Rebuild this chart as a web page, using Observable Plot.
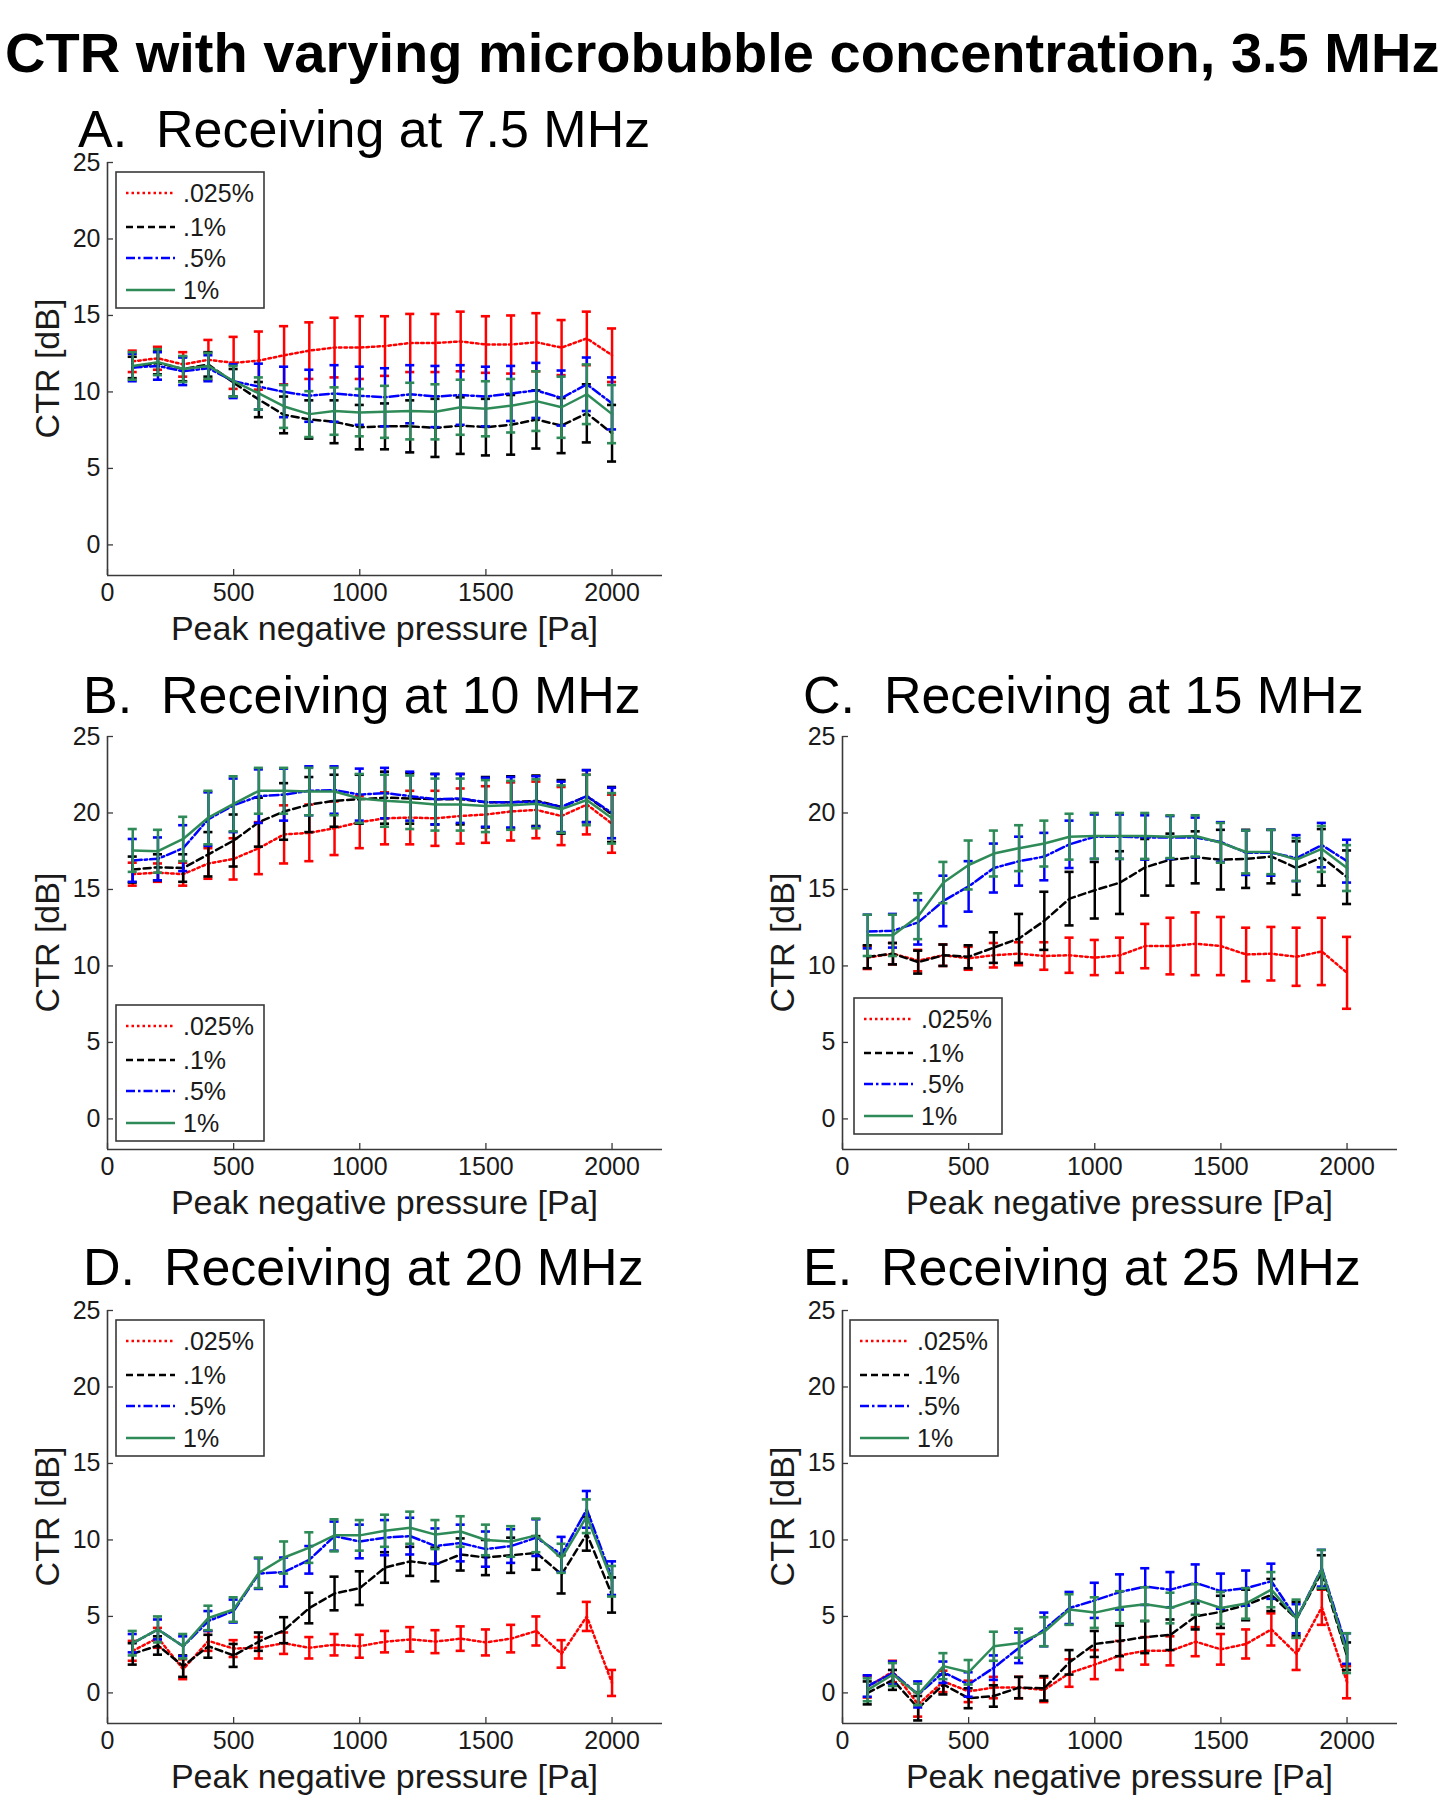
<!DOCTYPE html>
<html>
<head>
<meta charset="utf-8">
<script src="https://cdn.jsdelivr.net/npm/d3@7"></script>
<script src="https://cdn.jsdelivr.net/npm/@observablehq/plot@0.6"></script>
<style>
  body { margin: 0; background: #fff; }
  #page { position: relative; width: 1444px; height: 1800px; background: #fff; font-family: "Liberation Sans", Arial, sans-serif; }
  .panel { position: absolute; }
  #overlay { position: absolute; left: 0; top: 0; pointer-events: none; }
</style>
</head>
<body>
<div id="page"></div>
<script>
// ---------- data ----------
const pressure = [100, 200, 300, 400, 500, 600, 700, 800, 900, 1000, 1100, 1200, 1300, 1400, 1500, 1600, 1700, 1800, 1900, 2000];
const xTicks = [0, 500, 1000, 1500, 2000];
const yTicks = [0, 5, 10, 15, 20, 25];
const seriesNames = [".025%", ".1%", ".5%", "1%"];

// A. Receiving at 7.5 MHz
const a025 = [12.0, 12.2, 11.8, 12.1, 11.9, 12.05, 12.4, 12.7, 12.9, 12.9, 13.0, 13.2, 13.2, 13.3, 13.1, 13.1, 13.25, 12.9, 13.5, 12.4];
const a025err = [0.7, 0.75, 0.8, 1.3, 1.7, 1.9, 1.9, 1.85, 1.95, 2.05, 1.95, 1.9, 1.9, 1.95, 1.85, 1.9, 1.9, 1.8, 1.75, 1.75];
const a1 = [11.6, 11.9, 11.5, 11.8, 10.6, 9.5, 8.5, 8.2, 8.05, 7.7, 7.75, 7.75, 7.65, 7.8, 7.7, 7.85, 8.2, 7.8, 8.6, 7.3];
const a1err = [0.7, 0.75, 0.8, 0.8, 0.9, 1.15, 1.2, 1.25, 1.4, 1.45, 1.5, 1.7, 1.9, 1.85, 1.85, 1.95, 1.9, 1.8, 1.9, 1.85];
const a5 = [11.6, 11.7, 11.35, 11.55, 10.7, 10.35, 10.0, 9.75, 9.9, 9.75, 9.65, 9.85, 9.7, 9.8, 9.7, 9.9, 10.1, 9.6, 10.5, 9.25];
const a5err = [0.9, 0.9, 0.9, 0.85, 1.1, 1.5, 1.65, 1.7, 1.85, 1.9, 1.9, 1.9, 2.0, 1.95, 1.95, 1.8, 1.8, 1.8, 1.75, 1.7];
const a10 = [11.7, 11.95, 11.5, 11.7, 10.7, 9.9, 9.05, 8.55, 8.75, 8.65, 8.7, 8.75, 8.7, 9.0, 8.9, 9.1, 9.4, 9.0, 9.85, 8.55];
const a10err = [0.9, 0.85, 0.85, 0.85, 1.0, 1.05, 1.4, 1.5, 1.55, 1.55, 1.7, 1.85, 1.8, 1.8, 1.8, 1.75, 1.95, 2.0, 1.95, 1.9];

// B. Receiving at 10 MHz
const b025 = [16.0, 16.1, 16.0, 16.7, 17.0, 17.7, 18.6, 18.7, 19.0, 19.4, 19.65, 19.7, 19.65, 19.8, 19.9, 20.1, 20.2, 19.8, 20.55, 19.3];
const b025err = [0.75, 0.6, 0.75, 1.0, 1.35, 1.7, 1.9, 1.85, 1.75, 1.7, 1.7, 1.75, 1.8, 1.8, 1.85, 1.9, 1.85, 1.9, 1.95, 1.9];
const b1 = [16.3, 16.45, 16.4, 17.3, 18.2, 19.4, 20.1, 20.55, 20.8, 20.9, 21.0, 20.95, 20.9, 20.9, 20.7, 20.7, 20.8, 20.4, 21.1, 19.9];
const b1err = [0.85, 0.85, 0.9, 1.45, 1.7, 1.6, 1.85, 1.8, 1.7, 1.6, 1.7, 1.65, 1.65, 1.65, 1.65, 1.7, 1.65, 1.75, 1.7, 1.8];
const b5 = [16.9, 17.0, 17.7, 19.6, 20.5, 21.1, 21.2, 21.45, 21.5, 21.2, 21.3, 21.1, 20.9, 20.95, 20.7, 20.7, 20.75, 20.4, 21.1, 20.0];
const b5err = [1.4, 1.4, 1.5, 1.75, 1.75, 1.75, 1.7, 1.6, 1.55, 1.7, 1.65, 1.6, 1.65, 1.6, 1.6, 1.65, 1.65, 1.65, 1.7, 1.65];
const b10 = [17.55, 17.5, 18.3, 19.7, 20.6, 21.45, 21.45, 21.4, 21.4, 20.95, 20.8, 20.7, 20.55, 20.55, 20.45, 20.5, 20.6, 20.25, 20.85, 19.65];
const b10err = [1.4, 1.4, 1.45, 1.75, 1.8, 1.5, 1.5, 1.55, 1.55, 1.6, 1.7, 1.75, 1.7, 1.7, 1.7, 1.6, 1.6, 1.55, 1.65, 1.65];

// C. Receiving at 15 MHz
const c025 = [10.55, 10.8, 10.35, 10.7, 10.5, 10.7, 10.8, 10.65, 10.7, 10.55, 10.7, 11.3, 11.3, 11.45, 11.3, 10.75, 10.8, 10.6, 10.95, 9.55];
const c025err = [0.75, 0.7, 0.7, 0.7, 0.75, 0.8, 0.75, 0.9, 1.15, 1.15, 1.15, 1.45, 1.85, 2.05, 1.9, 1.75, 1.75, 1.9, 2.2, 2.35];
const c1 = [10.6, 10.8, 10.25, 10.7, 10.6, 11.2, 11.8, 12.95, 14.4, 14.95, 15.45, 16.45, 16.95, 17.1, 16.95, 17.0, 17.15, 16.4, 17.1, 15.8];
const c1err = [0.75, 0.7, 0.75, 0.7, 0.75, 1.0, 1.6, 1.9, 1.75, 1.85, 2.05, 1.85, 1.7, 1.7, 1.95, 1.9, 1.75, 1.75, 1.85, 1.75];
const c5 = [12.25, 12.3, 12.85, 14.25, 15.2, 16.4, 16.85, 17.15, 17.95, 18.45, 18.45, 18.4, 18.4, 18.4, 18.1, 17.4, 17.4, 17.05, 17.9, 16.85];
const c5err = [1.1, 1.1, 1.45, 1.65, 1.65, 1.6, 1.6, 1.55, 1.55, 1.45, 1.45, 1.45, 1.4, 1.3, 1.3, 1.45, 1.5, 1.5, 1.45, 1.4];
const c10 = [12.0, 12.0, 13.25, 15.45, 16.6, 17.35, 17.7, 18.0, 18.45, 18.5, 18.5, 18.5, 18.45, 18.5, 18.05, 17.45, 17.45, 16.95, 17.65, 16.4];
const c10err = [1.35, 1.35, 1.5, 1.35, 1.6, 1.5, 1.5, 1.5, 1.5, 1.5, 1.5, 1.5, 1.4, 1.35, 1.3, 1.4, 1.45, 1.4, 1.5, 1.5];

// D. Receiving at 20 MHz
const d025 = [2.75, 3.6, 1.55, 3.4, 2.9, 2.95, 3.25, 2.95, 3.15, 3.05, 3.35, 3.5, 3.35, 3.55, 3.3, 3.55, 4.05, 2.55, 5.0, 0.65];
const d025err = [0.65, 0.65, 0.65, 0.65, 0.55, 0.7, 0.7, 0.7, 0.7, 0.75, 0.7, 0.8, 0.75, 0.8, 0.85, 0.9, 0.95, 0.9, 0.95, 0.85];
const d1 = [2.55, 3.1, 1.75, 3.05, 2.45, 3.35, 4.1, 5.55, 6.5, 6.85, 8.2, 8.6, 8.4, 9.05, 8.85, 9.0, 9.15, 7.75, 10.4, 6.4];
const d1err = [0.7, 0.6, 0.7, 0.75, 0.75, 0.6, 0.85, 1.0, 1.1, 1.1, 1.0, 0.95, 1.1, 1.05, 1.15, 1.15, 1.1, 1.25, 1.1, 1.15];
const d5 = [3.25, 4.15, 3.05, 4.7, 5.35, 7.8, 7.9, 8.7, 10.25, 9.9, 10.15, 10.25, 9.6, 9.8, 9.4, 9.6, 10.15, 9.05, 12.0, 7.5];
const d5err = [0.6, 0.65, 0.65, 0.65, 0.75, 1.0, 0.95, 0.9, 0.95, 1.1, 1.15, 1.2, 1.15, 1.2, 1.15, 1.1, 1.2, 1.15, 1.2, 1.1];
const d10 = [3.25, 4.15, 3.05, 4.9, 5.45, 7.85, 8.85, 9.5, 10.3, 10.3, 10.6, 10.8, 10.35, 10.55, 10.0, 9.9, 10.3, 8.8, 11.55, 7.3];
const d10err = [0.8, 0.85, 0.8, 0.8, 0.8, 1.0, 1.05, 1.0, 1.05, 1.0, 1.05, 1.05, 0.95, 1.0, 1.0, 1.0, 1.1, 0.95, 1.1, 1.0];

// E. Receiving at 25 MHz
const e025 = [0.4, 1.4, -0.75, 0.75, 0.1, 0.35, 0.35, 0.2, 1.3, 1.85, 2.45, 2.75, 2.75, 3.35, 2.85, 3.2, 4.15, 2.55, 5.6, 0.7];
const e025err = [0.7, 0.7, 0.8, 0.7, 0.7, 0.7, 0.7, 0.8, 0.9, 0.95, 0.95, 0.9, 0.95, 0.95, 1.0, 0.95, 1.05, 1.05, 1.15, 1.05];
const e1 = [0.0, 0.85, -1.0, 0.55, -0.35, -0.2, 0.35, 0.3, 2.0, 3.2, 3.4, 3.65, 3.8, 5.0, 5.3, 5.75, 6.4, 4.85, 7.9, 2.4];
const e1err = [0.75, 0.65, 0.8, 0.65, 0.65, 0.7, 0.7, 0.8, 0.8, 0.85, 1.0, 1.05, 1.0, 0.85, 1.05, 1.0, 1.05, 1.1, 1.1, 0.9];
const e5 = [0.45, 1.3, -0.1, 1.35, 0.55, 1.65, 2.95, 4.15, 5.55, 6.05, 6.6, 6.95, 6.75, 7.2, 6.65, 6.85, 7.3, 4.85, 8.15, 2.9];
const e5err = [0.7, 0.75, 0.85, 0.7, 0.8, 0.8, 1.0, 1.1, 1.05, 1.15, 1.15, 1.2, 1.15, 1.2, 1.15, 1.15, 1.15, 0.95, 1.2, 1.0];
const e10 = [0.2, 1.2, -0.1, 1.75, 1.35, 3.05, 3.25, 4.0, 5.45, 5.25, 5.6, 5.8, 5.55, 6.1, 5.55, 5.85, 6.75, 4.85, 8.1, 2.6];
const e10err = [0.75, 0.75, 0.7, 0.85, 0.8, 0.95, 0.95, 0.95, 1.0, 1.0, 1.05, 1.1, 1.0, 1.0, 1.05, 1.0, 1.15, 1.25, 1.25, 1.3];

// ---------- styles ----------
const seriesStyle = [
  {color: "#ff0000", dash: "2.5,3"},
  {color: "#000000", dash: "7,4"},
  {color: "#0000ff", dash: "9,3,2.5,3"},
  {color: "#2e8b57", dash: null}
];

const panels = [
  {title: "A.\u00a0 Receiving at 7.5 MHz", left: 0,   top: 142,  titleX: 78,  titleY: 147,  legend: [116, 172], data: [[a025, a025err], [a1, a1err], [a5, a5err], [a10, a10err]]},
  {title: "B.\u00a0 Receiving at 10 MHz",  left: 0,   top: 716,  titleX: 83,  titleY: 713,  legend: [116, 1005], data: [[b025, b025err], [b1, b1err], [b5, b5err], [b10, b10err]]},
  {title: "C.\u00a0 Receiving at 15 MHz",  left: 735, top: 716,  titleX: 803, titleY: 713,  legend: [854, 998], data: [[c025, c025err], [c1, c1err], [c5, c5err], [c10, c10err]]},
  {title: "D.\u00a0 Receiving at 20 MHz",  left: 0,   top: 1290, titleX: 83,  titleY: 1285, legend: [116, 1320], data: [[d025, d025err], [d1, d1err], [d5, d5err], [d10, d10err]]},
  {title: "E.\u00a0 Receiving at 25 MHz",  left: 735, top: 1290, titleX: 803, titleY: 1285, legend: [850, 1320], data: [[e025, e025err], [e1, e1err], [e5, e5err], [e10, e10err]]}
];

const W = 672, H = 508, mL = 107, mT = 20, mR = 10, mB = 75;
const plotW = W - mL - mR;
const plotH = H - mT - mB;
const CAP = 18; // half cap width in Pa units
const axisColor = "#3a3a3a";
const fontFamily = '"Liberation Sans", Arial, sans-serif';

function makePanel(p) {
  const marks = [
    Plot.ruleX([0], {stroke: axisColor, strokeWidth: 1.6}),
    Plot.ruleY([-2], {stroke: axisColor, strokeWidth: 1.6}),
    Plot.tickY(yTicks, {y: d => d, insetRight: plotW - 6, stroke: axisColor, strokeWidth: 1.3}),
    Plot.tickX(xTicks, {x: d => d, insetTop: plotH - 6, stroke: axisColor, strokeWidth: 1.3})
  ];
  p.data.forEach(([mean, err], si) => {
    const st = seriesStyle[si];
    const rows = pressure.map((x, i) => ({x, m: mean[i], e: err[i]}));
    marks.push(Plot.ruleX(rows, {x: "x", y1: d => d.m - d.e, y2: d => d.m + d.e, stroke: st.color, strokeWidth: 2.5}));
    marks.push(Plot.ruleY(rows, {y: d => d.m + d.e, x1: d => d.x - CAP, x2: d => d.x + CAP, stroke: st.color, strokeWidth: 2.6}));
    marks.push(Plot.ruleY(rows, {y: d => d.m - d.e, x1: d => d.x - CAP, x2: d => d.x + CAP, stroke: st.color, strokeWidth: 2.6}));
    marks.push(Plot.line(rows, {x: "x", y: "m", stroke: st.color, strokeWidth: 2.5, strokeDasharray: st.dash}));
  });
  marks.push(Plot.axisX(xTicks, {tickSize: 0, tickPadding: 8, label: null, fill: "#1a1a1a", tickFormat: d => String(d)}));
  marks.push(Plot.axisY(yTicks, {tickSize: 0, tickPadding: 7, label: null, fill: "#1a1a1a", tickFormat: d => String(d)}));
  const svg = Plot.plot({
    width: W, height: H,
    marginLeft: mL, marginTop: mT, marginRight: mR, marginBottom: mB,
    x: {domain: [0, 2200]},
    y: {domain: [-2, 25]},
    style: {fontFamily, fontSize: "25px", background: "transparent", overflow: "visible", color: "#1a1a1a"},
    marks
  });
  const div = document.createElement("div");
  div.className = "panel";
  div.style.left = p.left + "px";
  div.style.top = p.top + "px";
  div.appendChild(svg);
  document.getElementById("page").appendChild(div);
}

panels.forEach(makePanel);

// ---------- overlay: titles, axis labels, legends ----------
const ov = d3.select("#page").append("svg")
  .attr("id", "overlay").attr("width", 1444).attr("height", 1800)
  .style("font-family", fontFamily);

ov.append("text").attr("x", 5).attr("y", 72)
  .attr("font-size", 56).attr("font-weight", "bold").attr("fill", "#000")
  .text("CTR with varying microbubble concentration, 3.5 MHz");

panels.forEach(p => {
  ov.append("text").attr("x", p.titleX).attr("y", p.titleY)
    .attr("font-size", 52).attr("fill", "#000").text(p.title);
  const px0 = p.left + mL, py0 = p.top + mT;
  // y label
  ov.append("text")
    .attr("transform", `translate(${p.left + 47},${py0 + plotH / 2}) rotate(-90)`)
    .attr("text-anchor", "middle").attr("dominant-baseline", "central")
    .attr("font-size", 34).attr("fill", "#1a1a1a").text("CTR [dB]");
  // x label
  ov.append("text")
    .attr("x", px0 + plotW / 2).attr("y", py0 + plotH + 53)
    .attr("text-anchor", "middle").attr("dominant-baseline", "central")
    .attr("font-size", 34).attr("fill", "#1a1a1a").text("Peak negative pressure [Pa]");
  // legend
  const [lx, ly] = p.legend;
  const g = ov.append("g").attr("transform", `translate(${lx},${ly})`);
  g.append("rect").attr("width", 148).attr("height", 136)
    .attr("fill", "#fff").attr("stroke", axisColor).attr("stroke-width", 1.6);
  const rowsY = [21, 55, 86, 118];
  seriesNames.forEach((name, i) => {
    const st = seriesStyle[i];
    g.append("line").attr("x1", 10).attr("x2", 59).attr("y1", rowsY[i]).attr("y2", rowsY[i])
      .attr("stroke", st.color).attr("stroke-width", 2.5)
      .attr("stroke-dasharray", st.dash);
    g.append("text").attr("x", 67).attr("y", rowsY[i])
      .attr("dominant-baseline", "central").attr("font-size", 25).attr("fill", "#1a1a1a")
      .text(name);
  });
});
</script>
</body>
</html>
